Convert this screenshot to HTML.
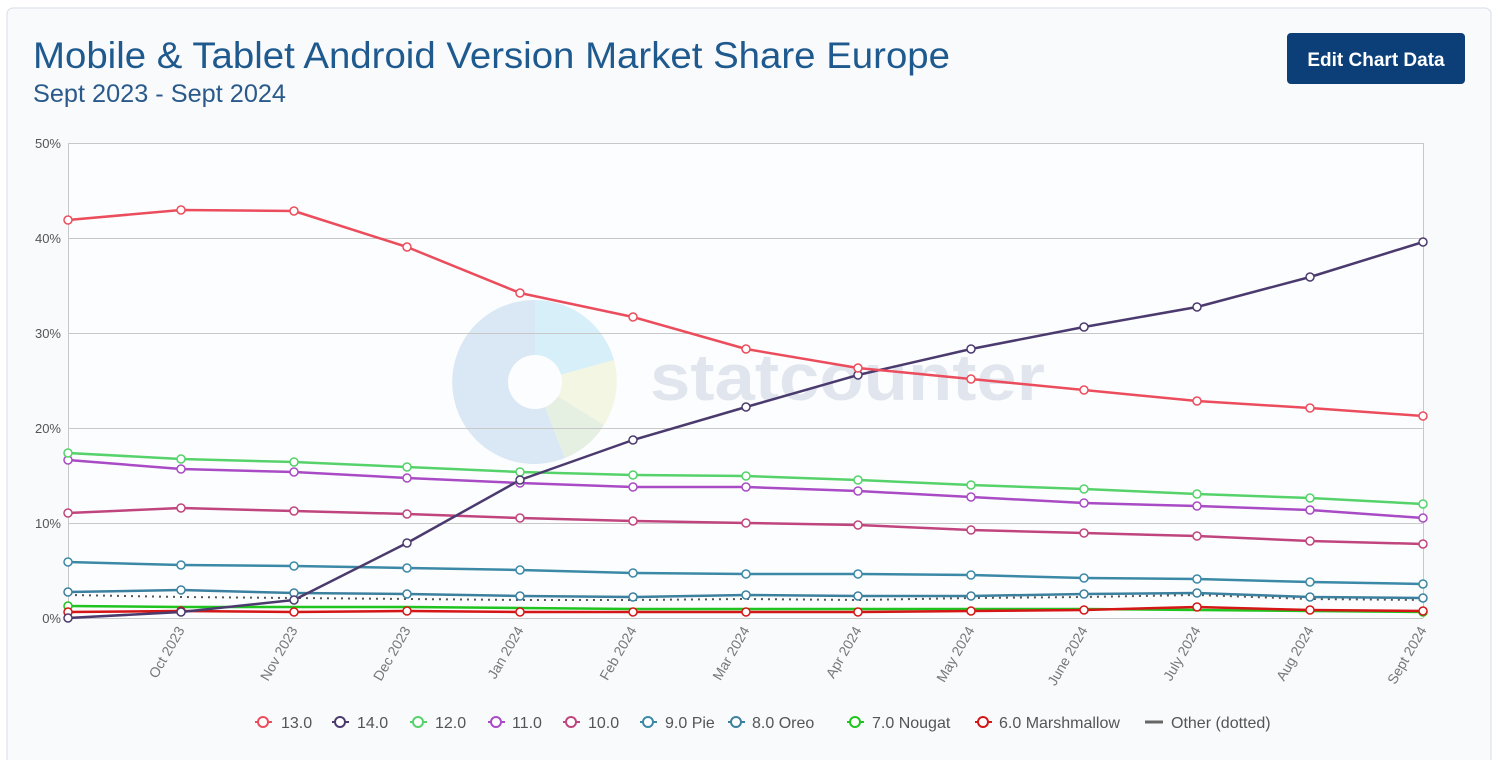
<!DOCTYPE html>
<html><head><meta charset="utf-8"><style>
html,body{margin:0;padding:0;background:#fff;}
body{width:1500px;height:760px;overflow:hidden;font-family:"Liberation Sans",sans-serif;}
</style></head><body>
<svg width="1500" height="760" xmlns="http://www.w3.org/2000/svg" font-family="Liberation Sans, sans-serif">
<rect x="7" y="8" width="1484" height="760" rx="6" fill="#f9fafc" stroke="#d6dde6"/>
<text x="33" y="68" font-size="37" fill="#1f5a8f" textLength="917" lengthAdjust="spacingAndGlyphs">Mobile &amp; Tablet Android Version Market Share Europe</text>
<text x="33" y="102" font-size="25" fill="#2a5a8a" textLength="253" lengthAdjust="spacingAndGlyphs">Sept 2023 - Sept 2024</text>
<rect x="1287" y="33" width="178" height="51" rx="4" fill="#0c3f78"/>
<text x="1376" y="66" font-size="19" font-weight="bold" fill="#fff" text-anchor="middle">Edit Chart Data</text>
<rect x="68" y="143" width="1355" height="475" fill="#fcfdfe"/>
<!-- watermark -->
<g opacity="0.9">
<path d="M535,382 L535,300 A82,82 0 0 1 614,360 Z" fill="#d4eef9"/>
<path d="M535,382 L614,360 A82,82 0 0 1 604,425 Z" fill="#f2f6df"/>
<path d="M535,382 L604,425 A82,82 0 0 1 565,458 Z" fill="#e4efdf"/>
<path d="M535,382 L565,458 A82,82 0 1 1 535,300 Z" fill="#d6e6f4"/>
<circle cx="535" cy="382" r="27" fill="#fcfdfe"/>
<text x="650" y="400" font-size="66" font-weight="bold" fill="#dfe4ed" textLength="395" lengthAdjust="spacingAndGlyphs">statcounter</text>
</g>
<g stroke="#c8c8c8" stroke-width="1">
<line x1="68" y1="143.5" x2="1423" y2="143.5"/>
<line x1="68" y1="238.5" x2="1423" y2="238.5"/>
<line x1="68" y1="333.5" x2="1423" y2="333.5"/>
<line x1="68" y1="428.5" x2="1423" y2="428.5"/>
<line x1="68" y1="523.5" x2="1423" y2="523.5"/>
<line x1="68" y1="618.5" x2="1423" y2="618.5"/>
<line x1="68.5" y1="143" x2="68.5" y2="618"/>
<line x1="1423.5" y1="143" x2="1423.5" y2="618"/>
</g>
<g font-size="13" fill="#555" text-anchor="end">
<text x="61" y="148">50%</text><text x="61" y="243">40%</text><text x="61" y="338">30%</text>
<text x="61" y="433">20%</text><text x="61" y="528">10%</text><text x="61" y="623">0%</text>
</g>
<g font-size="14" fill="#777" text-anchor="end">
<text transform="translate(185,630) rotate(-60)">Oct 2023</text>
<text transform="translate(298,630) rotate(-60)">Nov 2023</text>
<text transform="translate(411,630) rotate(-60)">Dec 2023</text>
<text transform="translate(524,630) rotate(-60)">Jan 2024</text>
<text transform="translate(637,630) rotate(-60)">Feb 2024</text>
<text transform="translate(750,630) rotate(-60)">Mar 2024</text>
<text transform="translate(862,630) rotate(-60)">Apr 2024</text>
<text transform="translate(975,630) rotate(-60)">May 2024</text>
<text transform="translate(1088,630) rotate(-60)">June 2024</text>
<text transform="translate(1201,630) rotate(-60)">July 2024</text>
<text transform="translate(1314,630) rotate(-60)">Aug 2024</text>
<text transform="translate(1427,630) rotate(-60)">Sept 2024</text>
</g>
<g fill="none" stroke-width="2.5" stroke-linejoin="round">
<polyline stroke="#555" stroke-width="2" stroke-dasharray="2,5" points="68,595 181,597 294,598 407,599 520,600 633,600 746,599 858,600 971,598 1084,597 1197,595 1310,599 1423,600"/>
<polyline stroke="#1fc41f" points="68,606 181,607 294,607 407,607 520,608 633,609 746,609 858,609 971,609 1084,609 1197,610 1310,611 1423,612"/>
<polyline stroke="#d41616" points="68,612 181,611 294,612 407,611 520,612 633,612 746,612 858,612 971,611 1084,610 1197,607 1310,610 1423,611"/>
<polyline stroke="#3c809f" points="68,592 181,590 294,593 407,594 520,596 633,597 746,595 858,596 971,596 1084,594 1197,593 1310,597 1423,598"/>
<polyline stroke="#3b89a6" points="68,562 181,565 294,566 407,568 520,570 633,573 746,574 858,574 971,575 1084,578 1197,579 1310,582 1423,584"/>
<polyline stroke="#c0457f" points="68,513 181,508 294,511 407,514 520,518 633,521 746,523 858,525 971,530 1084,533 1197,536 1310,541 1423,544"/>
<polyline stroke="#a84bc4" points="68,460 181,469 294,472 407,478 520,483 633,487 746,487 858,491 971,497 1084,503 1197,506 1310,510 1423,518"/>
<polyline stroke="#55d26a" points="68,453 181,459 294,462 407,467 520,472 633,475 746,476 858,480 971,485 1084,489 1197,494 1310,498 1423,504"/>
<polyline stroke="#4b3a6e" points="68,618 181,612 294,600 407,543 520,480 633,440 746,407 858,375 971,349 1084,327 1197,307 1310,277 1423,242"/>
<polyline stroke="#eb4d5d" points="68,220 181,210 294,211 407,247 520,293 633,317 746,349 858,368 971,379 1084,390 1197,401 1310,408 1423,416"/>
</g>
<g fill="#fff" stroke-width="1.5">
<g stroke="#1fc41f"><circle cx="68" cy="606" r="4"/><circle cx="1423" cy="612" r="4"/></g>
<g stroke="#d41616"><circle cx="68" cy="612" r="4"/><circle cx="181" cy="611" r="4"/><circle cx="294" cy="612" r="4"/><circle cx="407" cy="611" r="4"/><circle cx="520" cy="612" r="4"/><circle cx="633" cy="612" r="4"/><circle cx="746" cy="612" r="4"/><circle cx="858" cy="612" r="4"/><circle cx="971" cy="611" r="4"/><circle cx="1084" cy="610" r="4"/><circle cx="1197" cy="607" r="4"/><circle cx="1310" cy="610" r="4"/><circle cx="1423" cy="611" r="4"/></g>
<g stroke="#3c809f"><circle cx="68" cy="592" r="4"/><circle cx="181" cy="590" r="4"/><circle cx="294" cy="593" r="4"/><circle cx="407" cy="594" r="4"/><circle cx="520" cy="596" r="4"/><circle cx="633" cy="597" r="4"/><circle cx="746" cy="595" r="4"/><circle cx="858" cy="596" r="4"/><circle cx="971" cy="596" r="4"/><circle cx="1084" cy="594" r="4"/><circle cx="1197" cy="593" r="4"/><circle cx="1310" cy="597" r="4"/><circle cx="1423" cy="598" r="4"/></g>
<g stroke="#3b89a6"><circle cx="68" cy="562" r="4"/><circle cx="181" cy="565" r="4"/><circle cx="294" cy="566" r="4"/><circle cx="407" cy="568" r="4"/><circle cx="520" cy="570" r="4"/><circle cx="633" cy="573" r="4"/><circle cx="746" cy="574" r="4"/><circle cx="858" cy="574" r="4"/><circle cx="971" cy="575" r="4"/><circle cx="1084" cy="578" r="4"/><circle cx="1197" cy="579" r="4"/><circle cx="1310" cy="582" r="4"/><circle cx="1423" cy="584" r="4"/></g>
<g stroke="#c0457f"><circle cx="68" cy="513" r="4"/><circle cx="181" cy="508" r="4"/><circle cx="294" cy="511" r="4"/><circle cx="407" cy="514" r="4"/><circle cx="520" cy="518" r="4"/><circle cx="633" cy="521" r="4"/><circle cx="746" cy="523" r="4"/><circle cx="858" cy="525" r="4"/><circle cx="971" cy="530" r="4"/><circle cx="1084" cy="533" r="4"/><circle cx="1197" cy="536" r="4"/><circle cx="1310" cy="541" r="4"/><circle cx="1423" cy="544" r="4"/></g>
<g stroke="#a84bc4"><circle cx="68" cy="460" r="4"/><circle cx="181" cy="469" r="4"/><circle cx="294" cy="472" r="4"/><circle cx="407" cy="478" r="4"/><circle cx="520" cy="483" r="4"/><circle cx="633" cy="487" r="4"/><circle cx="746" cy="487" r="4"/><circle cx="858" cy="491" r="4"/><circle cx="971" cy="497" r="4"/><circle cx="1084" cy="503" r="4"/><circle cx="1197" cy="506" r="4"/><circle cx="1310" cy="510" r="4"/><circle cx="1423" cy="518" r="4"/></g>
<g stroke="#55d26a"><circle cx="68" cy="453" r="4"/><circle cx="181" cy="459" r="4"/><circle cx="294" cy="462" r="4"/><circle cx="407" cy="467" r="4"/><circle cx="520" cy="472" r="4"/><circle cx="633" cy="475" r="4"/><circle cx="746" cy="476" r="4"/><circle cx="858" cy="480" r="4"/><circle cx="971" cy="485" r="4"/><circle cx="1084" cy="489" r="4"/><circle cx="1197" cy="494" r="4"/><circle cx="1310" cy="498" r="4"/><circle cx="1423" cy="504" r="4"/></g>
<g stroke="#4b3a6e"><circle cx="68" cy="618" r="4"/><circle cx="181" cy="612" r="4"/><circle cx="294" cy="600" r="4"/><circle cx="407" cy="543" r="4"/><circle cx="520" cy="480" r="4"/><circle cx="633" cy="440" r="4"/><circle cx="746" cy="407" r="4"/><circle cx="858" cy="375" r="4"/><circle cx="971" cy="349" r="4"/><circle cx="1084" cy="327" r="4"/><circle cx="1197" cy="307" r="4"/><circle cx="1310" cy="277" r="4"/><circle cx="1423" cy="242" r="4"/></g>
<g stroke="#eb4d5d"><circle cx="68" cy="220" r="4"/><circle cx="181" cy="210" r="4"/><circle cx="294" cy="211" r="4"/><circle cx="407" cy="247" r="4"/><circle cx="520" cy="293" r="4"/><circle cx="633" cy="317" r="4"/><circle cx="746" cy="349" r="4"/><circle cx="858" cy="368" r="4"/><circle cx="971" cy="379" r="4"/><circle cx="1084" cy="390" r="4"/><circle cx="1197" cy="401" r="4"/><circle cx="1310" cy="408" r="4"/><circle cx="1423" cy="416" r="4"/></g>
</g>
<!-- legend -->
<g font-size="16" fill="#555" stroke-width="2">
<g stroke="#eb4d5d"><line x1="255" y1="722" x2="272" y2="722"/><circle cx="263" cy="722" r="5" fill="#fff"/></g><text x="281" y="728">13.0</text>
<g stroke="#4b3a6e"><line x1="332" y1="722" x2="349" y2="722"/><circle cx="340" cy="722" r="5" fill="#fff"/></g><text x="357" y="728">14.0</text>
<g stroke="#55d26a"><line x1="410" y1="722" x2="427" y2="722"/><circle cx="418" cy="722" r="5" fill="#fff"/></g><text x="435" y="728">12.0</text>
<g stroke="#a84bc4"><line x1="488" y1="722" x2="505" y2="722"/><circle cx="496" cy="722" r="5" fill="#fff"/></g><text x="512" y="728">11.0</text>
<g stroke="#c0457f"><line x1="563" y1="722" x2="580" y2="722"/><circle cx="571" cy="722" r="5" fill="#fff"/></g><text x="588" y="728">10.0</text>
<g stroke="#3b89a6"><line x1="640" y1="722" x2="657" y2="722"/><circle cx="648" cy="722" r="5" fill="#fff"/></g><text x="665" y="728">9.0 Pie</text>
<g stroke="#3c809f"><line x1="728" y1="722" x2="745" y2="722"/><circle cx="736" cy="722" r="5" fill="#fff"/></g><text x="752" y="728">8.0 Oreo</text>
<g stroke="#1fc41f"><line x1="847" y1="722" x2="864" y2="722"/><circle cx="855" cy="722" r="5" fill="#fff"/></g><text x="872" y="728">7.0 Nougat</text>
<g stroke="#d41616"><line x1="975" y1="722" x2="992" y2="722"/><circle cx="983" cy="722" r="5" fill="#fff"/></g><text x="999" y="728">6.0 Marshmallow</text>
<line x1="1145" y1="722" x2="1163" y2="722" stroke="#666" stroke-width="3"/><text x="1171" y="728">Other (dotted)</text>
</g>
</svg>
</body></html>
